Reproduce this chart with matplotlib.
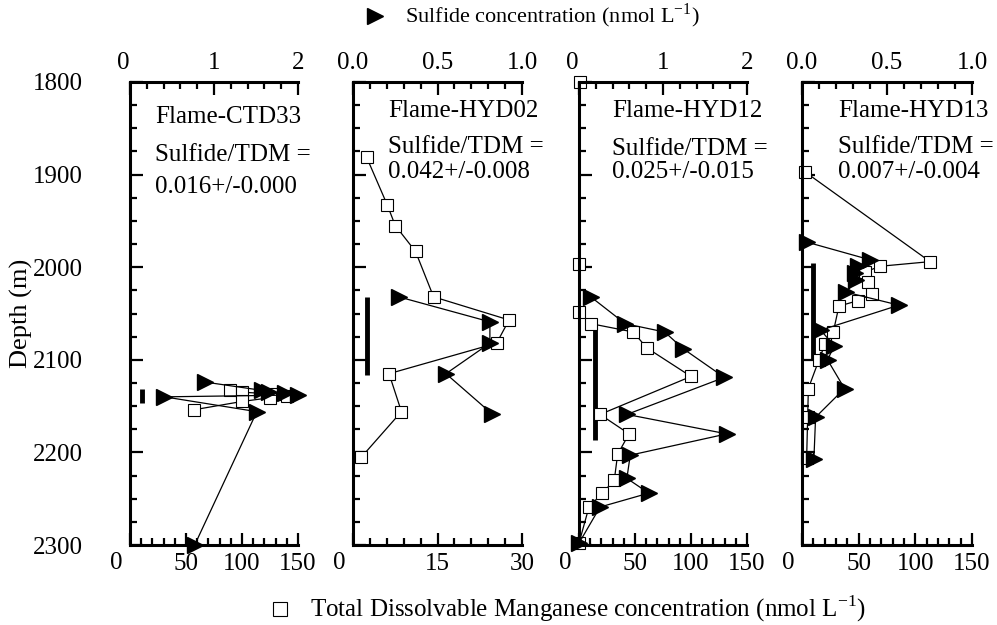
import numpy as np
import matplotlib
matplotlib.use("Agg")
import matplotlib.pyplot as plt
from matplotlib.lines import Line2D
from matplotlib.ticker import MultipleLocator

plt.rcParams['font.family'] = ['Liberation Serif', 'DejaVu Serif']
plt.rcParams['mathtext.fontset'] = 'custom'
plt.rcParams['mathtext.rm'] = 'Liberation Serif'

# ---- data ----
names = ["Flame-CTD33", "Flame-HYD02", "Flame-HYD12", "Flame-HYD13"]
ratios = ["0.016+/-0.000", "0.042+/-0.008", "0.025+/-0.015", "0.007+/-0.004"]

# CTD33
ctd33_s_depth = [2124, 2133, 2135, 2136, 2138, 2140, 2156, 2300]
ctd33_s = [0.89, 1.57, 1.65, 1.84, 2.0, 0.41, 1.51, 0.77]
ctd33_mn_depth = [2133, 2135, 2137, 2139, 2141, 2145, 2154]
ctd33_mn = [89, 100, 130, 140, 125, 100, 57]

# HYD02
hyd02_s_depth = [2032, 2059, 2082, 2115, 2158]
hyd02_s = [0.27, 0.81, 0.81, 0.55, 0.82]
hyd02_mn_depth = [1881, 1933, 1955, 1983, 2032, 2057, 2082, 2115, 2156, 2205]
hyd02_mn = [2.4, 6.1, 7.5, 11.1, 14.3, 27.7, 25.5, 6.4, 8.6, 1.5]

# HYD12
hyd12_s_depth = [2032, 2061, 2070, 2088, 2119, 2159, 2180, 2203, 2228, 2244, 2259, 2298]
hyd12_s = [0.14, 0.55, 1.02, 1.24, 1.73, 0.57, 1.76, 0.61, 0.57, 0.83, 0.25, 0.0]
hyd12_mn_depth = [1800, 1997, 2048, 2061, 2070, 2087, 2118, 2159, 2180, 2202, 2230, 2244, 2259, 2298]
hyd12_mn = [1, 0, 0, 10.7, 48.5, 60.4, 100, 18.8, 44.7, 34.5, 31.5, 20.8, 8.9, 0]

# HYD13
hyd13_s_depth = [1973, 1992, 1999, 2006, 2014, 2027, 2041, 2068, 2085, 2100, 2131, 2162, 2207]
hyd13_s = [0.03, 0.40, 0.33, 0.31, 0.32, 0.26, 0.57, 0.11, 0.19, 0.15, 0.25, 0.08, 0.07]
hyd13_mn_depth = [1897, 1994, 1999, 2005, 2016, 2029, 2036, 2042, 2070, 2083, 2100, 2131, 2162, 2206]
hyd13_mn = [2.6, 113, 68.8, 56, 58.5, 62, 49.7, 32.6, 27.6, 20.3, 15, 5.6, 5, 4.1]

# plume depth bars (Mn position, top, bottom)
bar_x = [10.7, 2.5, 14, 9.7]
bar_top = [2131, 2032, 2068, 1996]
bar_bot = [2147, 2116, 2187, 2100]

s_depths = [ctd33_s_depth, hyd02_s_depth, hyd12_s_depth, hyd13_s_depth]
s_vals = [ctd33_s, hyd02_s, hyd12_s, hyd13_s]
mn_depths = [ctd33_mn_depth, hyd02_mn_depth, hyd12_mn_depth, hyd13_mn_depth]
mn_vals = [ctd33_mn, hyd02_mn, hyd12_mn, hyd13_mn]

mn_max = [150, 30, 150, 150]
mn_major = [50, 15, 50, 50]
mn_minor = [10, 3, 10, 10]
s_max = [2, 1, 2, 1]
s_major = [1, 0.5, 1, 0.5]
s_minor = [0.2, 0.1, 0.2, 0.1]

W, H = 997, 625
lefts = [130, 353, 579, 802]
widths = [168, 169, 168, 170]
top_px, bot_px = 82, 545
text_y = [(123, 161, 193), (117, 153, 178), (117, 155, 178), (117, 153, 178)]
text_x = [155, 388, 612, 838]

fig = plt.figure(figsize=(W / 100, H / 100), dpi=100)


def mn_label(v, p):
    return "" if v == 0 else "{:g}".format(v)


for i in range(4):
    ax = fig.add_axes([lefts[i] / W, 1 - bot_px / H, widths[i] / W, (bot_px - top_px) / H])
    ax.set_xlim(0, mn_max[i])
    ax.set_ylim(2300, 1800)
    ax2 = ax.twiny()
    ax2.set_xlim(0, s_max[i])

    for a in (ax, ax2):
        for sp in a.spines.values():
            sp.set_linewidth(2.2)
        a.spines['right'].set_visible(False)
    ax.spines['top'].set_visible(False)
    ax2.spines['left'].set_visible(False)
    ax2.spines['bottom'].set_visible(False)

    ax.xaxis.set_major_locator(MultipleLocator(mn_major[i]))
    ax.xaxis.set_minor_locator(MultipleLocator(mn_minor[i]))
    ax.xaxis.set_major_formatter(plt.FuncFormatter(mn_label))
    ax.yaxis.set_major_locator(MultipleLocator(100))
    ax.yaxis.set_minor_locator(MultipleLocator(25))
    ax2.xaxis.set_major_locator(MultipleLocator(s_major[i]))
    ax2.xaxis.set_minor_locator(MultipleLocator(s_minor[i]))
    if s_max[i] == 2:
        ax2.xaxis.set_major_formatter(plt.FuncFormatter(mn_label))
        ax.annotate("0", xy=(0, 1), xycoords='axes fraction', xytext=(-5, 6),
                    textcoords='offset points', ha='center', va='bottom', fontsize=18)
    else:
        ax2.xaxis.set_major_formatter(plt.FuncFormatter(lambda v, p: "{:.1f}".format(v)))

    # bottom "0" sits a little left of the axis corner
    ax.annotate("0", xy=(0, 0), xycoords='axes fraction', xytext=(-10, -5),
                textcoords='offset points', ha='center', va='top', fontsize=18)

    ax.tick_params(which='both', direction='in', width=1.6, labelsize=18,
                   top=False, right=False)
    ax.tick_params(which='major', length=9)
    ax.tick_params(which='minor', length=5)
    ax.tick_params(axis='x', pad=6)
    ax.tick_params(axis='y', pad=34, labelleft=(i == 0))
    ax2.tick_params(which='both', direction='in', width=1.6, labelsize=18, pad=6)
    ax2.tick_params(which='major', length=9)
    ax2.tick_params(which='minor', length=5)

    # plume bar
    ax.plot([bar_x[i], bar_x[i]], [bar_top[i], bar_bot[i]], color='black', lw=3.5,
            solid_capstyle='butt')

    # manganese (open squares) and sulfide (filled triangles)
    ax.plot(mn_vals[i], mn_depths[i], color='black', lw=0.9, marker='s', ms=8.5,
            mfc='white', mec='black', mew=0.8, clip_on=False)
    ax2.plot(s_vals[i], s_depths[i], color='black', lw=0.9, marker='>', ms=12,
             mfc='black', mec='black', clip_on=False)

    if i == 0:
        ax.set_ylabel("Depth (m)", fontsize=19)
        ax.yaxis.set_label_coords(-0.58, 0.5)

    tx = text_x[i] / W
    fig.text(tx, 1 - text_y[i][0] / H, names[i], fontsize=18, va='baseline')
    fig.text(tx, 1 - text_y[i][1] / H, "Sulfide/TDM =", fontsize=18, va='baseline')
    fig.text(tx, 1 - text_y[i][2] / H, ratios[i], fontsize=18, va='baseline')

# axis titles with marker keys
fig.add_artist(Line2D([375 / W], [1 - 16 / H], marker='>', ms=12, color='black',
                      transform=fig.transFigure))
fig.text(405 / W, 1 - 16 / H, "Sulfide concentration (nmol L$^{\\mathregular{-1}}$)",
         fontsize=16, va='center')
fig.add_artist(Line2D([280 / W], [1 - 609 / H], marker='s', ms=10, mfc='white',
                      mec='black', mew=0.8, color='black', transform=fig.transFigure))
fig.text(310 / W, 1 - 609 / H,
         "Total Dissolvable Manganese concentration (nmol L$^{\\mathregular{-1}}$)",
         fontsize=18, va='center')

fig.savefig("out.png", dpi=100)
